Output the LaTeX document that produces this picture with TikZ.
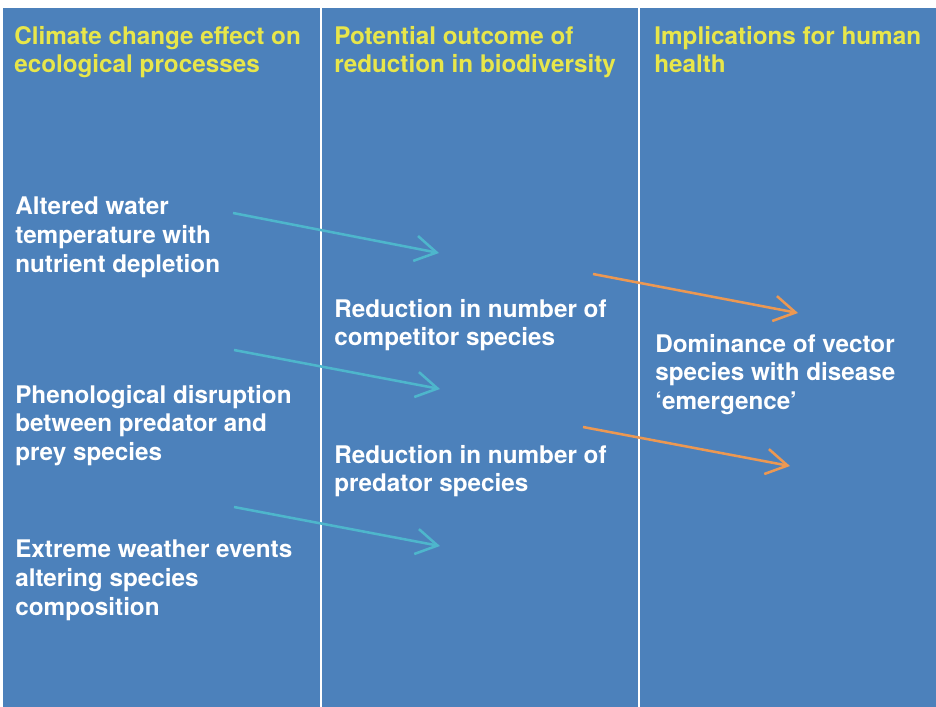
\documentclass[tikz,border=0pt]{standalone}
\usepackage{fontspec}
\setmainfont{TeX Gyre Heros}
\usepackage{tikz}
\usetikzlibrary{arrows.meta}
\definecolor{panelblue}{RGB}{76,129,187}
\definecolor{hdryellow}{RGB}{232,230,74}
\definecolor{tealarrow}{RGB}{78,182,204}
\definecolor{orangearrow}{RGB}{236,152,82}

\begin{document}
\begin{tikzpicture}[x=0.75pt,y=0.75pt,yscale=-1,xscale=1,
  hdr/.style={anchor=north west,inner sep=0.75pt,align=left,text=hdryellow,font=\fontsize{18.2}{21.4}\selectfont\bfseries},
  txt/.style={hdr,text=white},
  tealarr/.style={draw=tealarrow,line width=1.9pt,-{Straight Barb[length=16pt,width=19pt]}},
  orangearr/.style={tealarr,draw=orangearrow}]
%set diagram size to the reference, white margin at top and left
\useasboundingbox (0,0) rectangle (936,707);

%Shape: Rectangle [id:panel]
\fill[panelblue] (3,8) rectangle (936,707);
%Straight Lines [id:sep1]
\draw[white,line width=1.6pt] (321,8) -- (321,707);
%Straight Lines [id:sep2]
\draw[white,line width=1.6pt] (639,8) -- (639,707);

% Text Node
\draw (13,25) node (hclimate) [hdr] {Climate change effect on\\ecological processes};
% Text Node
\draw (333,25) node (houtcome) [hdr] {Potential outcome of\\reduction in biodiversity};
% Text Node
\draw (653,25) node (hhealth) [hdr] {Implications for human\\health};

% Text Node
\draw (14,196) node (altered) [txt] {Altered water\\temperature with\\nutrient depletion};
% Text Node
\draw (14,384) node (phenol) [txt] {Phenological disruption\\between predator and\\prey species};
% Text Node
\draw (14,539) node (extreme) [txt] {Extreme weather events\\altering species\\composition};
% Text Node
\draw (333,298) node (compet) [txt] {Reduction in number of\\competitor species};
% Text Node
\draw (333,444) node (predat) [txt] {Reduction in number of\\predator species};
% Text Node
\draw (654,333) node (domin) [txt] {Dominance of vector\\species with disease\\‘emergence’};

%Arrow ends
\coordinate (alteredS) at (233,213);
\coordinate (alteredE) at (439,253);
\coordinate (phenolS) at (234,350);
\coordinate (phenolE) at (440,389);
\coordinate (extremeS) at (234,507);
\coordinate (extremeE) at (440,546);
\coordinate (competS) at (593,274);
\coordinate (competE) at (798,313);
\coordinate (predatS) at (583,427);
\coordinate (predatE) at (790,466);

%Straight Lines [id:teal1]
\draw [tealarr] (alteredS) -- (alteredE);
%Straight Lines [id:teal2]
\draw [tealarr] (phenolS) -- (phenolE);
%Straight Lines [id:teal3]
\draw [tealarr] (extremeS) -- (extremeE);
%Straight Lines [id:orange1]
\draw [orangearr] (competS) -- (competE);
%Straight Lines [id:orange2]
\draw [orangearr] (predatS) -- (predatE);

\end{tikzpicture}
\end{document}
